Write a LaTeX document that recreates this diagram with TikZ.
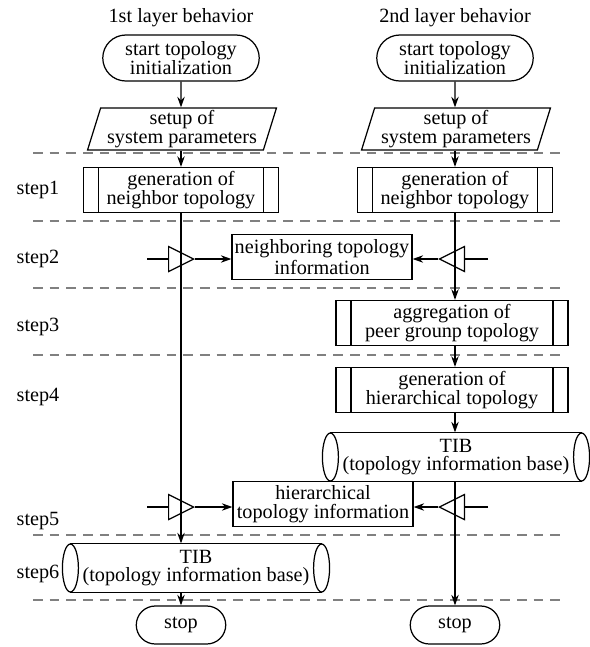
\documentclass[tikz,border=0pt]{standalone}
\usepackage{fontspec}
\setmainfont{Liberation Serif}
\usetikzlibrary{arrows.meta,shapes.geometric,shapes.misc}

\begin{document}
\begin{tikzpicture}[
    x=0.02cm, y=-0.02cm,
    line width=0.7pt,
    >={Stealth[length=6pt,width=4.2pt]},
    every node/.style = {
      font=\fontsize{11.5}{10.5}\selectfont,
      align=center
    },
    terminal/.style = {
      draw,
      rounded rectangle,
      inner sep=1pt
    },
    io/.style = {
      draw,
      trapezium,
      trapezium left angle=72,
      trapezium right angle=108,
      trapezium stretches=true,
      minimum width=3.78cm,
      minimum height=0.84cm,
      inner sep=0pt
    },
    process/.style = {
      draw,
      rectangle,
      minimum height=0.9cm,
      inner sep=0pt,
      path picture={
        \draw ([xshift=0.3cm]path picture bounding box.north west)
          -- ([xshift=0.3cm]path picture bounding box.south west)
          ([xshift=-0.3cm]path picture bounding box.north east)
          -- ([xshift=-0.3cm]path picture bounding box.south east);
      }
    },
    info/.style = {
      draw,
      rectangle,
      minimum width=3.6cm,
      minimum height=0.9cm,
      inner sep=1pt
    },
    store/.style = {
      minimum width=5cm,
      minimum height=0.96cm,
      inner sep=0pt
    },
    relay/.style = {
      draw,
      isosceles triangle,
      isosceles triangle stretches,
      minimum width=0.5cm,
      minimum height=0.5cm,
      inner sep=0pt,
      anchor=lower side
    },
    sep/.style = {
      gray,
      dash pattern=on 5.5pt off 4pt
    }
  ]
  \useasboundingbox (0,0) rectangle (590,647);

  % step separators and labels
  \foreach \y in {153,221,288,355,535,600}
    \draw[sep] (33,\y) -- (565,\y);
  \foreach \y/\s in {190/1,259/2,327/3,397/4,521/5,574/6}
    \node (step\s) at (38,\y) {step\s};

  % 1st layer
  \node (title1) at (181,18) {1st layer behavior};
  \node[terminal, minimum width=3.2cm, minimum height=0.92cm] (start1) at (181,58) {start topology\\initialization};
  \node[io] (setup1) at (182,129) {setup of\\system parameters};
  \node[process, minimum width=3.9cm] (gen1) at (181,190) {generation of\\neighbor topology};
  \node[store] (tibL) at (196,568) {TIB\\(topology information base)};
  \node[terminal, minimum width=1.86cm, minimum height=0.76cm] (stop1) at (181,625) {stop};

  % 2nd layer
  \node (title2) at (455,18) {2nd layer behavior};
  \node[terminal, minimum width=3.2cm, minimum height=0.92cm] (start2) at (455,58) {start topology\\initialization};
  \node[io] (setup2) at (456,129) {setup of\\system parameters};
  \node[process, minimum width=3.9cm] (gen2) at (455,190) {generation of\\neighbor topology};
  \node[process, minimum width=4.64cm] (agg) at (452,323) {aggregation of\\peer grounp topology};
  \node[process, minimum width=4.64cm] (genh) at (452,390) {generation of\\hierarchical topology};
  \node[store] (tibR) at (456,457) {TIB\\(topology information base)};
  \node[terminal, minimum width=1.86cm, minimum height=0.76cm] (stop2) at (455,625) {stop};

  % exchanged information
  \node[info] (nbinfo) at (322,257) {neighboring topology\\information};
  \node[info] (hinfo) at (323,504) {hierarchical\\topology information};
  \node[relay] (relay1) at (168,259) {};
  \node[relay, shape border rotate=180] (relay2) at (465,259) {};
  \node[relay] (relay3) at (168,507) {};
  \node[relay, shape border rotate=180] (relay4) at (465,507) {};
  \coordinate (in1) at (147,259);
  \coordinate (in2) at (488,259);
  \coordinate (in3) at (147,507);
  \coordinate (in4) at (488,507);

  % cylinders
  \draw (tibL.north west) -- (tibL.north east) (tibL.south west) -- (tibL.south east);
  \draw (tibL.west) ellipse [x radius=0.16cm, y radius=0.48cm];
  \draw (tibL.east) ellipse [x radius=0.16cm, y radius=0.48cm];
  \draw (tibR.north west) -- (tibR.north east) (tibR.south west) -- (tibR.south east);
  \draw (tibR.west) ellipse [x radius=0.16cm, y radius=0.48cm];
  \draw (tibR.east) ellipse [x radius=0.16cm, y radius=0.48cm];

  % flow
  \draw[->] (start1) -- (setup1.north -| start1);
  \draw[->] (setup1.south -| start1) -- (gen1);
  \draw[->] (gen1.south) -- (gen1.south |- tibL.north);
  \draw[->] (stop1.north |- tibL.south) -- (stop1.north);
  \draw[->] (start2) -- (setup2.north -| start2);
  \draw[->] (setup2.south -| start2) -- (gen2);
  \draw[->] (gen2.south) -- (gen2.south |- agg.north);
  \draw[->] (agg.south -| gen2) -- (genh.north -| gen2);
  \draw[->] (genh.south -| gen2) -- (tibR.north -| gen2);
  \draw[->] (stop2.north |- tibR.south) -- (stop2.north);

  \draw (in1) -- (relay1.lower side);
  \draw[->] (relay1.apex) -- (nbinfo.west |- relay1.apex);
  \draw (in2) -- (relay2.lower side);
  \draw[->] (relay2.apex) -- (nbinfo.east |- relay2.apex);
  \draw (in3) -- (relay3.lower side);
  \draw[->] (relay3.apex) -- (hinfo.west |- relay3.apex);
  \draw (in4) -- (relay4.lower side);
  \draw[->] (relay4.apex) -- (hinfo.east |- relay4.apex);
\end{tikzpicture}
\end{document}
